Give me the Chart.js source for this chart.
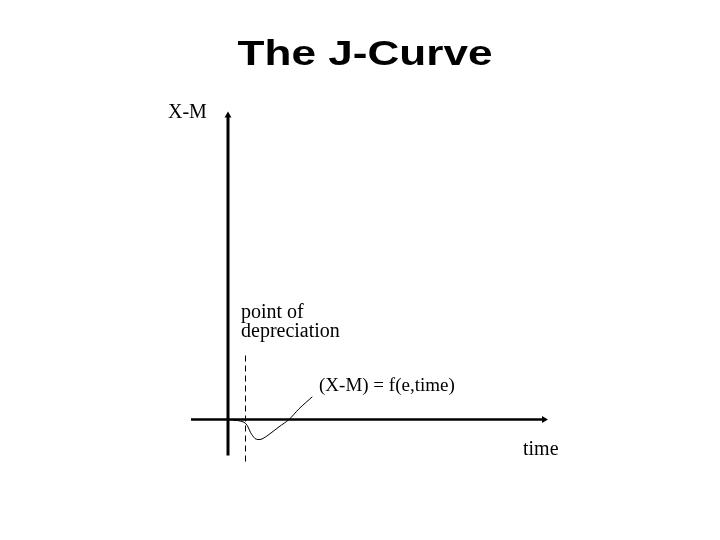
<!DOCTYPE html>
<html>
<head>
<meta charset="utf-8">
<script src="https://cdn.jsdelivr.net/npm/chart.js@4.4.1/dist/chart.umd.min.js"></script>
<style>
  html, body { margin: 0; padding: 0; background: #fff; }
  canvas { display: block; }
</style>
</head>
<body>
<canvas id="jcurve" width="720" height="540"></canvas>
<script>
// time on x, trade balance (X-M) on y; origin = moment before depreciation
const curveX = [0, 0.93, 1.6, 1.93, 2.27, 2.7, 3.0, 3.4, 4.1, 5.1, 6.1, 7.1, 8.43];
const curveY = [0, -0.1, -0.27, -0.6, -1.33, -1.9, -2.0, -1.95, -1.5, -0.73, 0, 1.07, 2.27];

const xAxisLine = [[-3.7, 0], [31.6, 0]];
const yAxisLine = [[0, -3.6], [0, 30.4]];
const depreciationX = 1.75;
const depreciationSpan = [-4.2, 6.5];

const titleText = "The J-Curve";
const labelTexts = ["X-M", "point of", "depreciation", "(X-M) = f(e,time)", "time"];
const labelAnchors = [[-6.0, 30.2], [1.3, 10.2], [1.3, 8.3], [9.1, 2.9], [29.5, -3.5]];

const toPts = (arr) => arr.map(p => ({ x: p[0], y: p[1] }));

// title + text labels placed in data space
const labelPlugin = {
  id: "labels",
  afterDatasetsDraw(chart) {
    const ctx = chart.ctx;
    const xs = chart.scales.x, ys = chart.scales.y;
    ctx.save();
    ctx.fillStyle = "#000";
    ctx.textBaseline = "alphabetic";
    ctx.textAlign = "left";
    labelTexts.forEach((t, i) => {
      ctx.font = (i === 3 ? "19px" : "20px") + " 'Liberation Serif', 'Times New Roman', serif";
      ctx.fillText(t, xs.getPixelForValue(labelAnchors[i][0]), ys.getPixelForValue(labelAnchors[i][1]));
    });
    // title is a bit stretched sideways in the original slide
    ctx.font = "bold 35px 'Liberation Sans', Arial, sans-serif";
    ctx.textAlign = "center";
    ctx.translate(365, 65);
    ctx.scale(1.26, 1);
    ctx.fillText(titleText, 0, 0);
    ctx.restore();
  }
};

var ctx = document.getElementById("jcurve").getContext("2d");
var chart = new Chart(ctx, {
  type: "scatter",
  data: {
    datasets: [
      {
        label: "x axis",
        data: toPts(xAxisLine),
        showLine: true,
        borderColor: "#000",
        borderWidth: 2.5,
        pointRadius: [0, 4],
        pointStyle: "triangle",
        rotation: 90,
        backgroundColor: "#000",
        pointBorderWidth: 0,
      },
      {
        label: "y axis",
        data: toPts(yAxisLine),
        showLine: true,
        borderColor: "#000",
        borderWidth: 3,
        pointRadius: [0, 4],
        pointStyle: "triangle",
        backgroundColor: "#000",
        pointBorderWidth: 0,
      },
      {
        label: "point of depreciation",
        data: depreciationSpan.map(v => ({ x: depreciationX, y: v })),
        showLine: true,
        borderColor: "#000",
        borderWidth: 1,
        borderDash: [6, 4],
        pointRadius: 0,
      },
      {
        label: "(X-M)",
        data: curveX.map((v, i) => ({ x: v, y: curveY[i] })),
        showLine: true,
        borderColor: "#000",
        borderWidth: 1,
        tension: 0.3,
        pointRadius: 0,
      },
    ],
  },
  options: {
    responsive: false,
    animation: false,
    layout: { padding: 0, autoPadding: false },
    scales: {
      x: { type: "linear", display: false, min: -22.8, max: 49.2 },
      y: { type: "linear", display: false, min: -12.05, max: 41.95 },
    },
    plugins: {
      legend: { display: false },
      tooltip: { enabled: false },
      title: { display: false },
    },
  },
  plugins: [labelPlugin],
});
</script>
</body>
</html>
